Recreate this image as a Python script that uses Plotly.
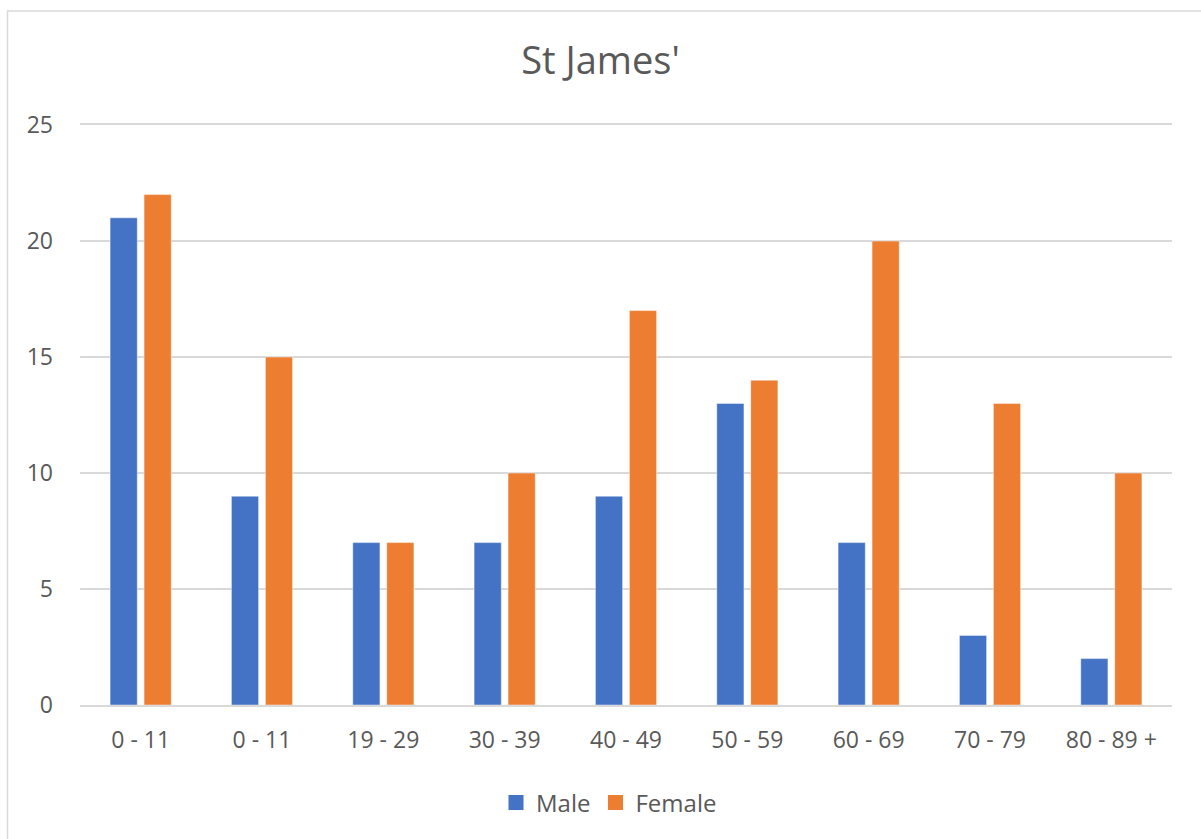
import plotly.graph_objects as go

categories = ["0 - 11", "0 - 11", "19 - 29", "30 - 39", "40 - 49", "50 - 59", "60 - 69", "70 - 79", "80 - 89 +"]
male = [21, 9, 7, 7, 9, 13, 7, 3, 2]
female = [22, 15, 7, 10, 17, 14, 20, 13, 10]
y_ticks = [0, 5, 10, 15, 20, 25]

W, H = 1201, 839
ML, MR, MT, MB = 80, 29, 125, 134
pw, ph = W - ML - MR, H - MT - MB

FONT = "Open Sans"
GREY = "#595959"
BLUE = "#4472C4"
ORANGE = "#ED7D31"
LINE = "#D9D9D9"

positions = list(range(len(categories)))

fig = go.Figure()
fig.add_trace(go.Bar(name="Male", x=positions, y=male, showlegend=False, legendgroup="m",
                     marker=dict(color=BLUE, line=dict(color="rgba(255,255,255,0.45)", width=1))))
fig.add_trace(go.Bar(name="Female", x=positions, y=female, showlegend=False, legendgroup="f",
                     marker=dict(color=ORANGE, line=dict(color="rgba(255,255,255,0.45)", width=1))))
# legend entries with larger square swatches
fig.add_trace(go.Scatter(name="Male", x=[None], y=[None], mode="markers", legendgroup="m",
                         marker=dict(symbol="square", size=15, color=BLUE)))
fig.add_trace(go.Scatter(name="Female", x=[None], y=[None], mode="markers", legendgroup="f",
                         marker=dict(symbol="square", size=15, color=ORANGE)))

def px_x(p):
    return (p - ML) / pw

def px_y(p):
    return (H - MB - p) / ph

fig.add_shape(type="rect", xref="paper", yref="paper",
              x0=px_x(7.5), x1=px_x(W + 20), y0=px_y(H + 20), y1=px_y(11),
              line=dict(color=LINE, width=1.5), fillcolor="rgba(0,0,0,0)", layer="below")

fig.update_layout(
    width=W, height=H,
    margin=dict(l=ML, r=MR, t=MT, b=MB),
    paper_bgcolor="white", plot_bgcolor="white",
    barmode="group", bargap=0.44, bargroupgap=0.2,
    font=dict(family=FONT, color=GREY, size=23),
    title=dict(text="St James'", x=0.5, xanchor="center", y=1 - 61 / H, yanchor="middle",
               font=dict(family=FONT, size=38, color=GREY)),
    showlegend=True,
    legend=dict(orientation="h", x=px_x(609), xanchor="center", y=px_y(803), yanchor="middle",
                font=dict(family=FONT, size=24, color=GREY), traceorder="normal",
                itemsizing="trace"),
    xaxis=dict(tickmode="array", tickvals=positions, ticktext=categories,
               range=[-0.5, len(categories) - 0.5], showgrid=False,
               showline=True, mirror=True, linecolor=LINE, linewidth=1.5, zeroline=False,
               ticks="", ticklabelstandoff=14, tickfont=dict(size=23, color=GREY, family=FONT)),
    yaxis=dict(range=[0, 25], tickmode="array", tickvals=y_ticks, showgrid=True,
               gridcolor=LINE, gridwidth=1.5, zeroline=False, showline=False,
               ticks="", ticklabelstandoff=26, tickfont=dict(size=23, color=GREY, family=FONT)),
)

fig.write_html("out.html", config={"displayModeBar": False},
               post_script="document.body.style.margin='0';")
